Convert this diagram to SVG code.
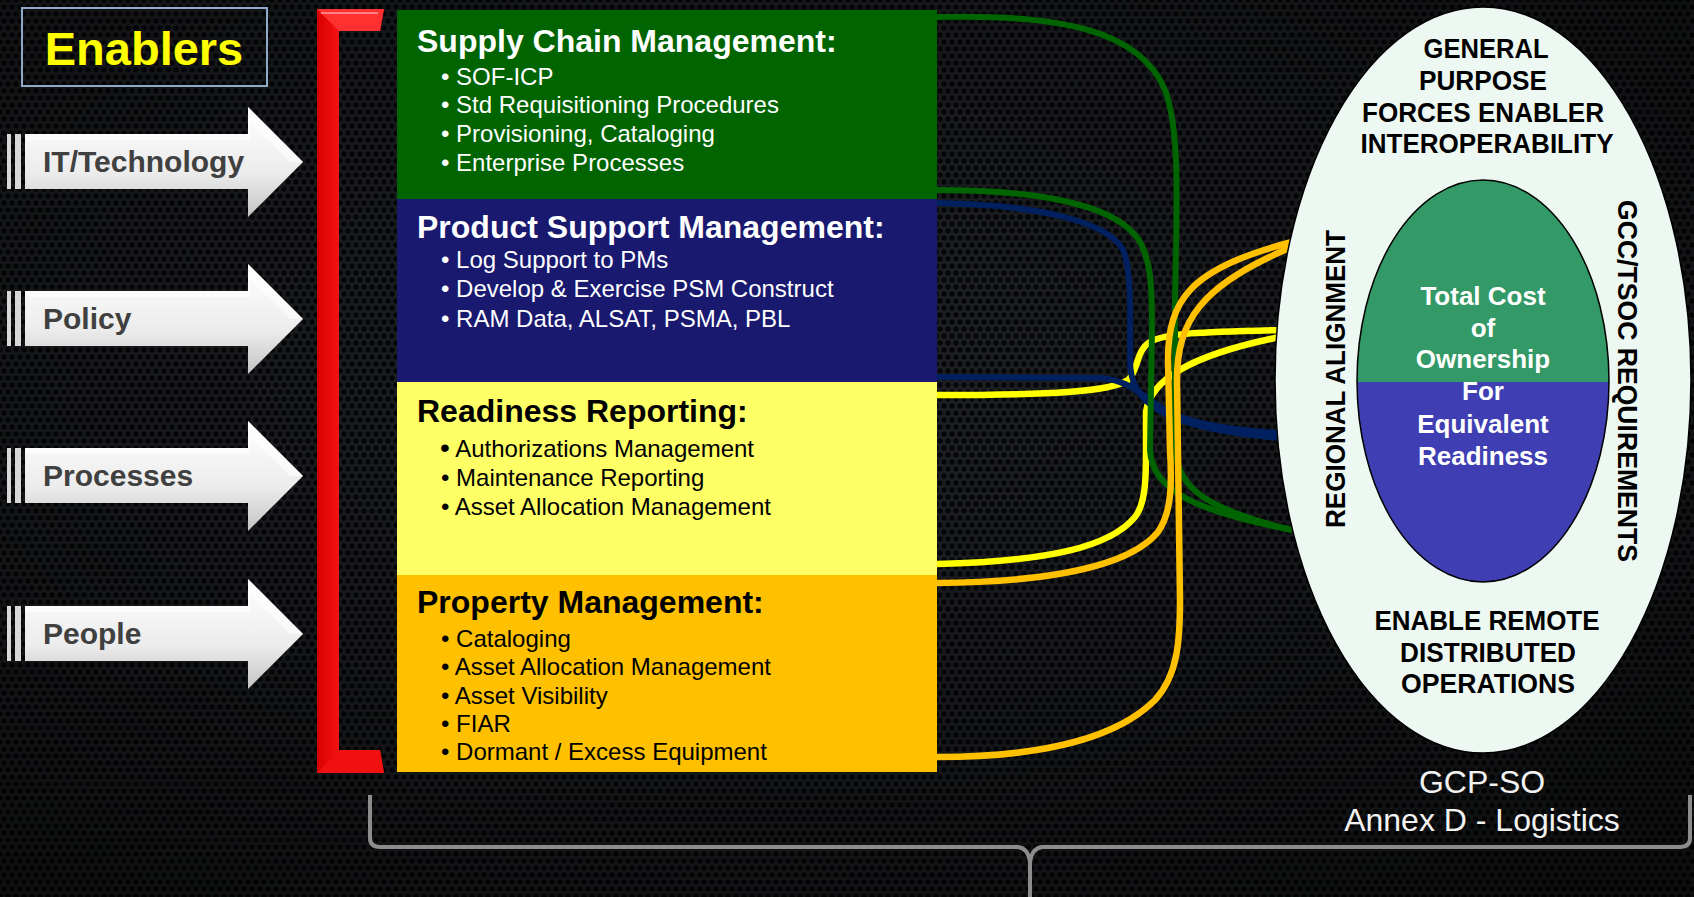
<svg xmlns="http://www.w3.org/2000/svg" width="1694" height="897" viewBox="0 0 1694 897">
<defs>
<pattern id="hex" width="8" height="14" patternUnits="userSpaceOnUse">
<rect width="8" height="14" fill="#202226"/>
<circle cx="0" cy="0" r="2.7" fill="#060708"/>
<circle cx="8" cy="0" r="2.7" fill="#060708"/>
<circle cx="4" cy="7" r="2.7" fill="#060708"/>
<circle cx="0" cy="14" r="2.7" fill="#060708"/>
<circle cx="8" cy="14" r="2.7" fill="#060708"/>
</pattern>
<radialGradient id="vig" cx="0.45" cy="0.4" r="0.75">
<stop offset="0" stop-color="#000" stop-opacity="0"/>
<stop offset="1" stop-color="#000" stop-opacity="0.55"/>
</radialGradient>
<linearGradient id="arrowFill" x1="0" y1="0" x2="0" y2="1">
<stop offset="0" stop-color="#ffffff"/>
<stop offset="0.6" stop-color="#ececec"/>
<stop offset="1" stop-color="#c4c4c4"/>
</linearGradient>
<linearGradient id="redV" x1="0" y1="0" x2="1" y2="0">
<stop offset="0" stop-color="#d80000"/>
<stop offset="0.45" stop-color="#ff1a1a"/>
<stop offset="1" stop-color="#e00000"/>
</linearGradient>
<path id="arrowShape" d="M25,134 L248,134 L248,107 L303,162 L248,217 L248,189 L25,189 Z"/>
<path id="arrowTop" d="M25,134 L248,134 L248,107 L303,162 L290,162 L250,122 L250,140 L25,140 Z"/>
<clipPath id="topHalf"><rect x="1300" y="150" width="360" height="232"/></clipPath>
<clipPath id="botHalf"><rect x="1300" y="382" width="360" height="220"/></clipPath>
<style>
.arrowTxt{font-family:"Liberation Sans",Arial,sans-serif;font-weight:bold;font-size:30px;fill:#404040}
.title{font-family:"Liberation Sans",Arial,sans-serif;font-weight:bold;font-size:32px}
.bul{font-family:"Liberation Sans",Arial,sans-serif;font-size:24px}
.cap{font-family:"Liberation Sans",Arial,sans-serif;font-weight:bold;font-size:27px;fill:#000}
.inner{font-family:"Liberation Sans",Arial,sans-serif;font-weight:bold;font-size:26px;fill:#fff;text-anchor:middle}
.lbl{font-family:"Liberation Sans",Arial,sans-serif;font-size:32px;fill:#f2f2f2;text-anchor:middle}
.w{fill:#fff}
.k{fill:#000}
.conn{fill:none;stroke-linecap:butt}
</style>
</defs>

<rect width="1694" height="897" fill="url(#hex)"/>
<rect width="1694" height="897" fill="url(#vig)"/>

<g id="enablers">
<rect x="22" y="8" width="245" height="78" fill="none" stroke="#8eaac8" stroke-width="2"/>
<text x="144" y="65" text-anchor="middle" font-family="Liberation Sans, Arial, sans-serif" font-weight="bold" font-size="47" fill="#ffff00">Enablers</text>
</g>

<g id="arrow-it">
<rect x="7" y="134" width="4" height="55" fill="#d8d8d8"/><rect x="15" y="134" width="6" height="55" fill="#d8d8d8"/>
<use href="#arrowShape" fill="url(#arrowFill)"/>
<use href="#arrowTop" fill="#ffffff" opacity="0.6"/>
<text class="arrowTxt" x="43" y="172">IT/Technology</text>
</g>
<g id="arrow-policy" transform="translate(0,157)">
<rect x="7" y="134" width="4" height="55" fill="#d8d8d8"/><rect x="15" y="134" width="6" height="55" fill="#d8d8d8"/>
<use href="#arrowShape" fill="url(#arrowFill)"/>
<use href="#arrowTop" fill="#ffffff" opacity="0.6"/>
<text class="arrowTxt" x="43" y="172">Policy</text>
</g>
<g id="arrow-processes" transform="translate(0,314)">
<rect x="7" y="134" width="4" height="55" fill="#d8d8d8"/><rect x="15" y="134" width="6" height="55" fill="#d8d8d8"/>
<use href="#arrowShape" fill="url(#arrowFill)"/>
<use href="#arrowTop" fill="#ffffff" opacity="0.6"/>
<text class="arrowTxt" x="43" y="172">Processes</text>
</g>
<g id="arrow-people" transform="translate(0,472)">
<rect x="7" y="134" width="4" height="55" fill="#d8d8d8"/><rect x="15" y="134" width="6" height="55" fill="#d8d8d8"/>
<use href="#arrowShape" fill="url(#arrowFill)"/>
<use href="#arrowTop" fill="#ffffff" opacity="0.6"/>
<text class="arrowTxt" x="43" y="172">People</text>
</g>

<g id="bracket">
<path d="M317,9 L384,9 L380,31 L339,31 L339,750 L380,750 L384,773 L317,773 Z" fill="url(#redV)"/>
<path d="M317,9 L384,9 L380,31 L339,31 Z" fill="#ff3030"/>
<path d="M339,750 L380,750 L384,773 L317,773 Z" fill="#f01010"/>
<path d="M321,13 L378,13" stroke="#ff8080" stroke-width="2"/>
</g>

<g id="box-scm">
<rect x="397" y="10" width="540" height="189" fill="#006400"/>
<text class="title w" x="417" y="52">Supply Chain Management:</text>
<text class="bul w" x="441" y="85">• SOF-ICP</text>
<text class="bul w" x="441" y="113">• Std Requisitioning Procedures</text>
<text class="bul w" x="441" y="142">• Provisioning, Cataloging</text>
<text class="bul w" x="441" y="171">• Enterprise Processes</text>
</g>
<g id="box-psm">
<rect x="397" y="199" width="540" height="183" fill="#191970"/>
<text class="title w" x="417" y="238">Product Support Management:</text>
<text class="bul w" x="441" y="268">• Log Support to PMs</text>
<text class="bul w" x="441" y="297">• Develop &amp; Exercise PSM Construct</text>
<text class="bul w" x="441" y="327">• RAM Data, ALSAT, PSMA, PBL</text>
</g>
<g id="box-rr">
<rect x="397" y="382" width="540" height="193" fill="#ffff66"/>
<text class="title k" x="417" y="422">Readiness Reporting:</text>
<text class="bul k" x="440" y="457"><tspan font-size="28">•</tspan> Authorizations Management</text>
<text class="bul k" x="441" y="486">• Maintenance Reporting</text>
<text class="bul k" x="441" y="515">• Asset Allocation Management</text>
</g>
<g id="box-pm">
<rect x="397" y="575" width="540" height="197" fill="#ffc000"/>
<text class="title k" x="417" y="613">Property Management:</text>
<text class="bul k" x="441" y="647">• Cataloging</text>
<text class="bul k" x="441" y="675">• Asset Allocation Management</text>
<text class="bul k" x="441" y="704">• Asset Visibility</text>
<text class="bul k" x="441" y="732">• FIAR</text>
<text class="bul k" x="441" y="760">• Dormant / Excess Equipment</text>
</g>

<g id="connectors">
<path class="conn" stroke="#ffff00" stroke-width="6.5" d="M937,395 C1050,395 1110,392 1128,380 C1138,372 1136,350 1150,342 C1165,333 1200,332 1280,330"/>
<path class="conn" stroke="#ffff00" stroke-width="6.5" d="M937,564 C1050,561 1110,547 1135,517 C1147,502 1146,470 1146,440 L1146,412 C1150,380 1190,355 1280,337"/>
<path class="conn" stroke="#002060" stroke-width="6" d="M937,203 C1050,205 1110,225 1123,250 C1132,270 1130,320 1130,360 C1130,402 1160,428 1280,438"/>
<path class="conn" stroke="#002060" stroke-width="6" d="M937,377 L1100,378 C1130,380 1140,395 1165,410 C1190,424 1230,430 1280,433"/>
<path class="conn" stroke="#006400" stroke-width="6" d="M937,17 C1060,14 1140,30 1165,90 C1180,130 1177,200 1175,300 L1175,450 C1178,490 1210,510 1292,530"/>
<path class="conn" stroke="#006400" stroke-width="6" d="M937,190 C1040,190 1110,205 1135,235 C1152,255 1152,290 1152,330 L1150,450 C1152,492 1200,512 1292,530"/>
<path class="conn" stroke="#ffc000" stroke-width="6.5" d="M937,583 C1050,582 1130,566 1158,532 C1172,512 1172,482 1170,450 L1168,360 C1168,300 1190,268 1292,242"/>
<path class="conn" stroke="#ffc000" stroke-width="6.5" d="M937,757 C1050,757 1120,735 1155,700 C1178,675 1180,640 1180,600 L1177,380 C1177,322 1200,285 1292,247"/>
</g>

<g id="ellipse-outer">
<ellipse cx="1483" cy="380" rx="208" ry="373" fill="#eef8f2" stroke="#000" stroke-width="1.5"/>
<text class="cap" x="1486" y="58" text-anchor="middle" textLength="125" lengthAdjust="spacingAndGlyphs">GENERAL</text>
<text class="cap" x="1483" y="90" text-anchor="middle" textLength="128" lengthAdjust="spacingAndGlyphs">PURPOSE</text>
<text class="cap" x="1483" y="122" text-anchor="middle" textLength="242" lengthAdjust="spacingAndGlyphs">FORCES ENABLER</text>
<text class="cap" x="1487" y="153" text-anchor="middle" textLength="253" lengthAdjust="spacingAndGlyphs">INTEROPERABILITY</text>
<text class="cap" x="1487" y="630" text-anchor="middle" textLength="225" lengthAdjust="spacingAndGlyphs">ENABLE REMOTE</text>
<text class="cap" x="1488" y="662" text-anchor="middle" textLength="176" lengthAdjust="spacingAndGlyphs">DISTRIBUTED</text>
<text class="cap" x="1488" y="693" text-anchor="middle" textLength="174" lengthAdjust="spacingAndGlyphs">OPERATIONS</text>
<text class="cap" transform="translate(1345,379) rotate(-90)" x="0" y="0" text-anchor="middle" textLength="298" lengthAdjust="spacingAndGlyphs">REGIONAL ALIGNMENT</text>
<text class="cap" transform="translate(1618,381) rotate(90)" x="0" y="0" text-anchor="middle" textLength="362" lengthAdjust="spacingAndGlyphs">GCC/TSOC REQUIREMENTS</text>
</g>

<g id="ellipse-inner">
<ellipse cx="1483" cy="381" rx="126" ry="201" fill="#339966" clip-path="url(#topHalf)"/>
<ellipse cx="1483" cy="381" rx="126" ry="201" fill="#3f3fb3" clip-path="url(#botHalf)"/>
<ellipse cx="1483" cy="381" rx="126" ry="201" fill="none" stroke="#000" stroke-width="1.5"/>
<text class="inner" x="1483" y="305">Total Cost</text>
<text class="inner" x="1483" y="337">of</text>
<text class="inner" x="1483" y="368">Ownership</text>
<text class="inner" x="1483" y="400">For</text>
<text class="inner" x="1483" y="433">Equivalent</text>
<text class="inner" x="1483" y="465">Readiness</text>
</g>

<g id="label-gcp">
<text class="lbl" x="1482" y="793">GCP-SO</text>
<text class="lbl" x="1482" y="831">Annex D - Logistics</text>
</g>

<g id="brace" fill="none" stroke="#8c8c8c" stroke-width="4">
<path d="M370,795 L370,838 Q370,847 380,847 L1018,847 Q1028,848 1030,862 L1030,897"/>
<path d="M1690,795 L1690,838 Q1690,847 1680,847 L1042,847 Q1032,848 1030,862"/>
</g>
</svg>
